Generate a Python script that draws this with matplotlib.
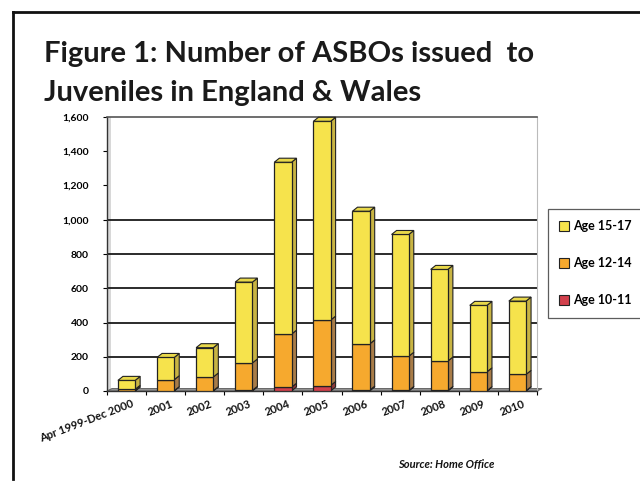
import matplotlib
matplotlib.use("Agg")
import matplotlib.pyplot as plt
from matplotlib.patches import Polygon, Patch
from matplotlib.lines import Line2D
import numpy as np

categories = ["Apr 1999-Dec 2000", "2001", "2002", "2003", "2004", "2005",
              "2006", "2007", "2008", "2009", "2010"]
age_10_11 = [1, 2, 2, 4, 22, 32, 5, 3, 3, 2, 2]
age_12_14 = [9, 64, 80, 160, 310, 382, 270, 200, 172, 110, 95]
age_15_17 = [52, 130, 171, 472, 1004, 1161, 775, 711, 535, 388, 428]
series = [("Age 10-11", age_10_11), ("Age 12-14", age_12_14), ("Age 15-17", age_15_17)]
yticks = [0, 200, 400, 600, 800, 1000, 1200, 1400, 1600]
ytick_labels = ["0", "200", "400", "600", "800", "1,000", "1,200", "1,400", "1,600"]
grid_levels = [200, 400, 600, 800, 1000]
title_lines = ["Figure 1: Number of ASBOs issued  to", "Juveniles in England & Wales"]

front_colors = {"Age 10-11": "#d2404c", "Age 12-14": "#f6a92e", "Age 15-17": "#f6e34c"}
side_colors = {"Age 10-11": "#8e3a3a", "Age 12-14": "#a87c48", "Age 15-17": "#c8b443"}
top_color = "#e8d84a"

plt.rcParams['font.family'] = ['Lato', 'DejaVu Sans']

W, H = 640, 483
fig = plt.figure(figsize=(6.4, 4.83), dpi=100)
fig.patch.set_facecolor("white")

left, right, bottom, top = 107, 537, 391, 117
ax = fig.add_axes([left / W, 1 - bottom / H, (right - left) / W, (bottom - top) / H])
ax.set_xlim(-0.5, len(categories) - 0.5)
ax.set_ylim(0, 1600)

x = np.arange(len(categories))
bw = 0.44
px_per_cat = (right - left) / len(categories)
px_per_unit = (bottom - top) / 1600
dx = 5 / px_per_cat
dy = 4 / px_per_unit

# left wall shading
ax.axvspan(-0.5, -0.5 + 0.1, color="#d8d8d8", zorder=0.5, lw=0)

# gridlines
for g in grid_levels:
    ax.axhline(g, color="#1a1a1a", lw=1.3, zorder=1)

# floor
floor = Polygon([(-0.5, 0), (-0.5 + dx, dy * 0.6), (len(categories) - 0.5 + dx, dy * 0.6),
                 (len(categories) - 0.5, 0)], closed=True, facecolor="#9a9a9a",
                edgecolor="#666666", lw=0.8, zorder=1.5, clip_on=False)
ax.add_patch(floor)

base = np.zeros(len(categories))
for name, vals in series:
    vals = np.array(vals, dtype=float)
    ax.bar(x, vals, bw, bottom=base, color=front_colors[name], edgecolor="#222222",
           lw=0.9, zorder=3, label=name)
    for xi, b, v in zip(x, base, vals):
        xr = xi + bw / 2
        side = Polygon([(xr, b), (xr + dx, b + dy), (xr + dx, b + v + dy), (xr, b + v)],
                       closed=True, facecolor=side_colors[name], edgecolor="#222222",
                       lw=0.8, zorder=2.9, clip_on=False)
        ax.add_patch(side)
    base = base + vals

for xi, t in zip(x, base):
    xl, xr = xi - bw / 2, xi + bw / 2
    topf = Polygon([(xl, t), (xl + dx, t + dy), (xr + dx, t + dy), (xr, t)], closed=True,
                   facecolor=top_color, edgecolor="#222222", lw=0.8, zorder=3.1, clip_on=False)
    ax.add_patch(topf)

# spines
for s in ["left", "bottom"]:
    ax.spines[s].set_color("#333333")
    ax.spines[s].set_linewidth(1.0)
ax.spines["top"].set_color("#555555")
ax.spines["top"].set_linewidth(1.2)
ax.spines["right"].set_color("#bbbbbb")
ax.spines["right"].set_linewidth(0.8)

ax.set_yticks(yticks)
ax.set_yticklabels(ytick_labels, fontsize=7.5, fontweight="bold")
ax.tick_params(axis="y", length=3, width=0.8, pad=10)
ax.set_xticks(np.arange(len(categories) + 1) - 0.5, minor=False)
ax.set_xticklabels([])
ax.tick_params(axis="x", length=3, width=0.8, direction="out")

for xi, lab in zip(x, categories):
    ax.text(xi + 0.12, -40, lab, rotation=21, rotation_mode="anchor", ha="right", va="top",
            fontsize=8, fontweight="bold", color="#111111")

# title
fig.text(44 / W, 1 - 62 / H, title_lines[0], fontsize=21, fontweight="bold",
         color="#1a1a1a", ha="left", va="baseline")
fig.text(44 / W, 1 - 101 / H, title_lines[1], fontsize=21, fontweight="bold",
         color="#1a1a1a", ha="left", va="baseline")
# source
fig.text(398 / W, 1 - 468 / H, "Source: Home Office", fontsize=8, fontweight="bold",
         fontstyle="italic", ha="left", va="baseline", color="#111111")

# legend
handles = [Patch(facecolor=front_colors[n], edgecolor="#222222", lw=0.8)
           for n in ["Age 15-17", "Age 12-14", "Age 10-11"]]
leg = fig.legend(handles, ["Age 15-17", "Age 12-14", "Age 10-11"],
                 loc="upper left", bbox_to_anchor=(548 / W, 1 - 209 / H),
                 frameon=True, fancybox=False, edgecolor="#333333",
                 prop={"weight": "bold", "size": 9}, handlelength=0.8, handleheight=0.8,
                 handletextpad=0.3, labelspacing=2.0, borderpad=0.9, borderaxespad=0)
leg.get_frame().set_linewidth(0.9)

# page frame
fig.add_artist(Line2D([13 / W, 13 / W], [1 - 12 / H, 1 - 479 / H], color="#111111", lw=2))
fig.add_artist(Line2D([13 / W, 1], [1 - 12 / H, 1 - 12 / H], color="#111111", lw=2))

fig.savefig("out.png", dpi=100, facecolor="white")
